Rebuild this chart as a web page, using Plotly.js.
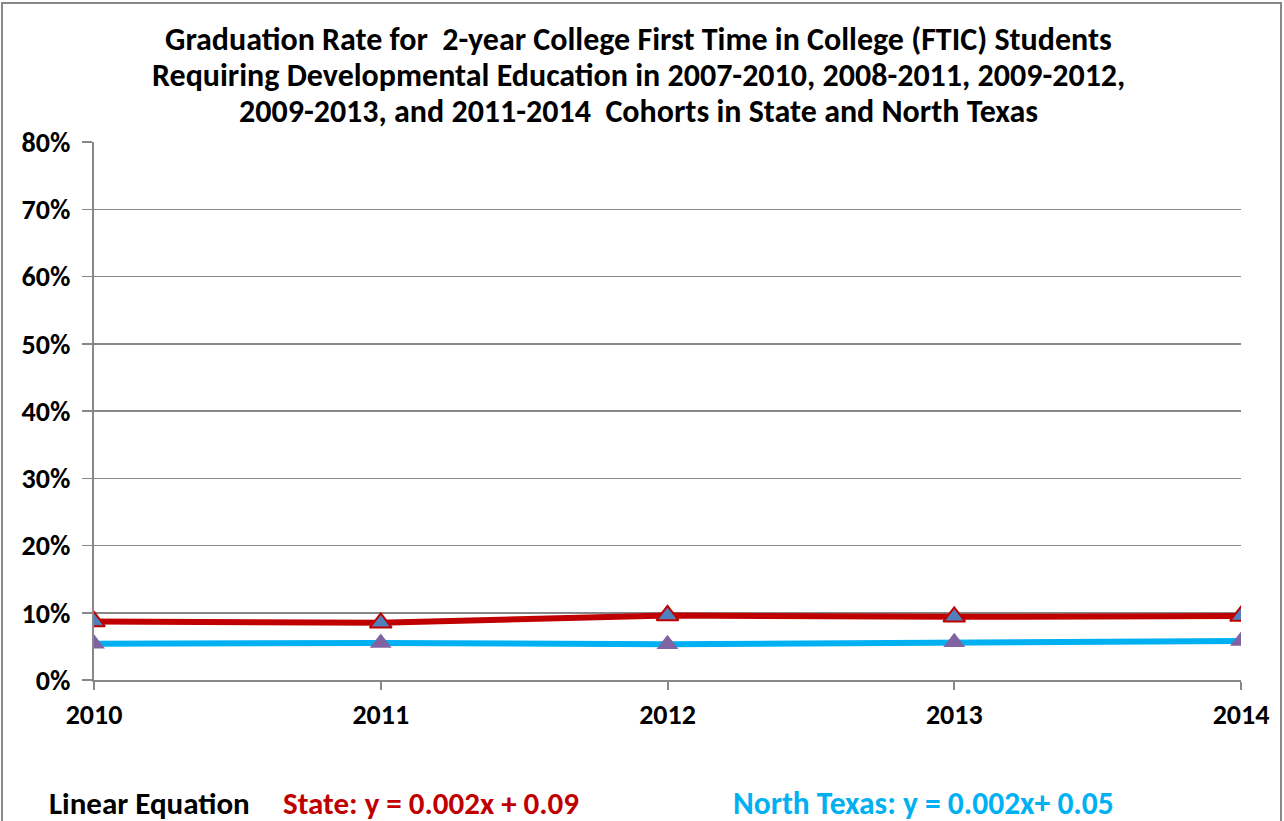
<!DOCTYPE html>
<html><head><meta charset="utf-8">
<script src="https://cdn.plot.ly/plotly-3.0.1.min.js"></script>
<style>html,body{margin:0;padding:0;background:#fff}#chart{width:1284px;height:821px}</style>
</head><body><div id="chart"></div>
<script>
const years = [2010, 2011, 2012, 2013, 2014];
const stateRates = [0.087, 0.085, 0.096, 0.094, 0.095];
const northTexasRates = [0.054, 0.055, 0.053, 0.056, 0.058];
const yTicks = [0, 0.1, 0.2, 0.3, 0.4, 0.5, 0.6, 0.7, 0.8];
const yTickLabels = ['0%','10%','20%','30%','40%','50%','60%','70%','80%'];
const titleLines = [
  'Graduation Rate for  2-year College First Time in College (FTIC) Students',
  'Requiring Developmental Education in 2007-2010, 2008-2011, 2009-2012,',
  '2009-2013, and 2011-2014  Cohorts in State and North Texas'
];
const equationLabel = 'Linear Equation';
const stateEquation = 'State: y = 0.002x + 0.09';
const ntEquation = 'North Texas: y = 0.002x+ 0.05';

const FONT = 'Carlito, "Liberation Sans Narrow", "Open Sans", sans-serif';
const W = 1147, H = 538, L = 94, T = 142;
const px = x => (x - L) / W;
const py = y => (T + H - y) / H;

const traces = [
  {x: years, y: stateRates, mode: 'lines+markers', name: 'State',
   line: {color: '#C00000', width: 6},
   marker: {symbol: 'triangle-up', size: 19, color: '#4F81BD', line: {color: '#C00000', width: 2}}},
  {x: years, y: northTexasRates, mode: 'lines+markers', name: 'North Texas',
   line: {color: '#00B0F0', width: 6},
   marker: {symbol: 'triangle-up', size: 19, color: '#8064A2', line: {width: 0}}}
];

const titleY = [40, 76, 112];
const annotations = titleLines.map((t, i) => ({
  text: '<b>' + t + '</b>', xref: 'paper', yref: 'paper', x: px(638), y: py(titleY[i]),
  xanchor: 'center', yanchor: 'middle', showarrow: false,
  font: {size: 32, family: FONT, color: '#000'}
}));
annotations.push(
  {text: '<b>' + equationLabel + '</b>', xref: 'paper', yref: 'paper', x: px(47), y: py(803),
   xanchor: 'left', yanchor: 'middle', showarrow: false, font: {size: 31, family: FONT, color: '#000'}},
  {text: '<b>' + stateEquation + '</b>', xref: 'paper', yref: 'paper', x: px(281), y: py(803),
   xanchor: 'left', yanchor: 'middle', showarrow: false, font: {size: 31, family: FONT, color: '#C00000'}},
  {text: '<b>' + ntEquation + '</b>', xref: 'paper', yref: 'paper', x: px(731), y: py(803),
   xanchor: 'left', yanchor: 'middle', showarrow: false, font: {size: 31.5, family: FONT, color: '#00B0F0'}}
);

const layout = {
  width: 1284, height: 821,
  margin: {l: L, r: 1284 - L - W, t: T, b: 821 - T - H},
  paper_bgcolor: '#fff', plot_bgcolor: '#fff',
  showlegend: false,
  font: {family: FONT, color: '#000'},
  xaxis: {range: [2010, 2014], tickvals: years, ticktext: years.map(v => '<b>' + v + '</b>'),
          showgrid: false, zeroline: false, showline: true, linecolor: '#888', linewidth: 2,
          ticks: 'outside', ticklen: 8, tickcolor: '#888', tickwidth: 2,
          tickfont: {size: 28, family: FONT, color: '#000'}, fixedrange: true},
  yaxis: {range: [0, 0.8], tickvals: yTicks, ticktext: yTickLabels.map(v => '<b>' + v + '</b>'),
          showgrid: true, gridcolor: '#888', gridwidth: 1.5, zeroline: false,
          showline: true, linecolor: '#888', linewidth: 2,
          ticks: 'outside', ticklen: 10, tickcolor: '#888', tickwidth: 1.5,
          ticklabelstandoff: 6,
          tickfont: {size: 28, family: FONT, color: '#000'}, fixedrange: true},
  shapes: [
    {type: 'rect', xref: 'paper', yref: 'paper', x0: px(2), x1: px(1281), y0: py(830), y1: py(3),
     line: {color: '#888', width: 2}, fillcolor: 'rgba(0,0,0,0)', layer: 'below'}
  ],
  annotations: annotations
};
Plotly.newPlot('chart', traces, layout, {displayModeBar: false, staticPlot: true});
</script></body></html>
